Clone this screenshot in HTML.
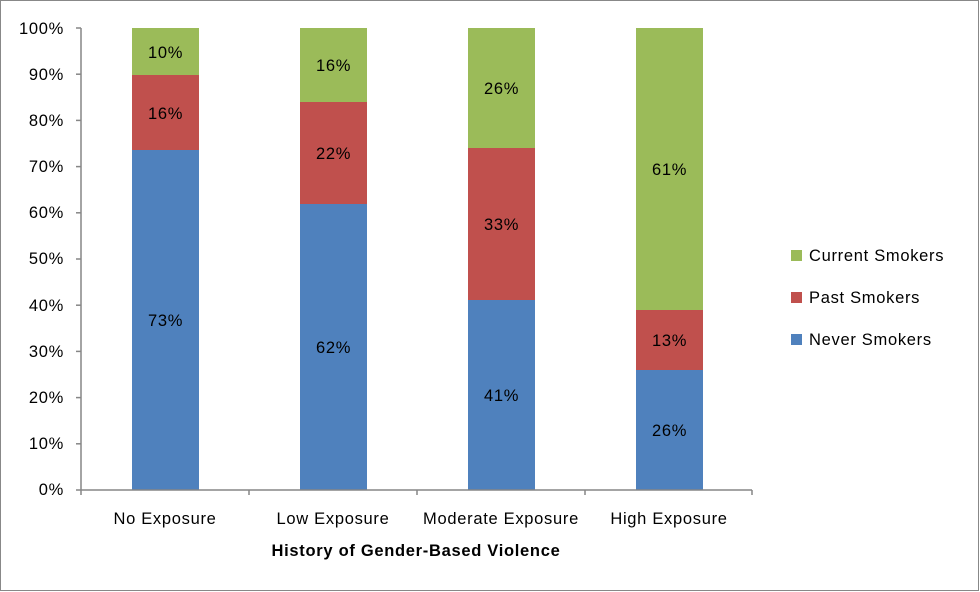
<!DOCTYPE html>
<html><head><style>
html,body{margin:0;padding:0;background:#fff;}
svg{display:block;font-family:"Liberation Sans",Calibri,sans-serif;}
</style></head><body>
<svg width="980" height="592" viewBox="0 0 980 592" xmlns="http://www.w3.org/2000/svg">
<rect x="0.5" y="0.5" width="978" height="590" fill="#fff" stroke="#888" stroke-width="1"/>
<g font-size="16.5" letter-spacing="0.7" fill="#000">
<!-- bars -->
<rect x="132" y="150" width="67" height="340" fill="#4F81BD"/>
<rect x="132" y="75" width="67" height="75" fill="#C0504D"/>
<rect x="132" y="28" width="67" height="47" fill="#9BBB59"/>
<rect x="300" y="204" width="67" height="286" fill="#4F81BD"/>
<rect x="300" y="102" width="67" height="102" fill="#C0504D"/>
<rect x="300" y="28" width="67" height="74" fill="#9BBB59"/>
<rect x="468" y="300" width="67" height="190" fill="#4F81BD"/>
<rect x="468" y="148" width="67" height="152" fill="#C0504D"/>
<rect x="468" y="28" width="67" height="120" fill="#9BBB59"/>
<rect x="636" y="370" width="67" height="120" fill="#4F81BD"/>
<rect x="636" y="310" width="67" height="60" fill="#C0504D"/>
<rect x="636" y="28" width="67" height="282" fill="#9BBB59"/>
<g text-anchor="middle">
<text x="165.5" y="58">10%</text><text x="165.5" y="119">16%</text><text x="165.5" y="326">73%</text>
<text x="333.5" y="71">16%</text><text x="333.5" y="159">22%</text><text x="333.5" y="353">62%</text>
<text x="501.5" y="94">26%</text><text x="501.5" y="230">33%</text><text x="501.5" y="401">41%</text>
<text x="669.5" y="175">61%</text><text x="669.5" y="346">13%</text><text x="669.5" y="436">26%</text>
</g>
<!-- axes -->
<g stroke="#868686" stroke-width="1.5" fill="none">
<line x1="81" y1="28" x2="81" y2="490"/>
<line x1="76" y1="490" x2="752" y2="490"/>
<line x1="76" y1="28" x2="81" y2="28"/><line x1="76" y1="74.2" x2="81" y2="74.2"/>
<line x1="76" y1="120.4" x2="81" y2="120.4"/><line x1="76" y1="166.6" x2="81" y2="166.6"/>
<line x1="76" y1="212.8" x2="81" y2="212.8"/><line x1="76" y1="259" x2="81" y2="259"/>
<line x1="76" y1="305.2" x2="81" y2="305.2"/><line x1="76" y1="351.4" x2="81" y2="351.4"/>
<line x1="76" y1="397.6" x2="81" y2="397.6"/><line x1="76" y1="443.8" x2="81" y2="443.8"/>
<line x1="81" y1="490" x2="81" y2="495"/><line x1="249" y1="490" x2="249" y2="495"/>
<line x1="417" y1="490" x2="417" y2="495"/><line x1="585" y1="490" x2="585" y2="495"/>
<line x1="752" y1="490" x2="752" y2="495"/>
</g>
<g text-anchor="end">
<text x="64" y="34">100%</text><text x="64" y="80">90%</text><text x="64" y="126">80%</text>
<text x="64" y="172">70%</text><text x="64" y="218">60%</text><text x="64" y="264">50%</text>
<text x="64" y="311">40%</text><text x="64" y="357">30%</text><text x="64" y="403">20%</text>
<text x="64" y="449">10%</text><text x="64" y="495">0%</text>
</g>
<g text-anchor="middle">
<text x="165" y="524">No Exposure</text><text x="333" y="524">Low Exposure</text>
<text x="501" y="524">Moderate Exposure</text><text x="669" y="524">High Exposure</text>
<text x="416" y="556" font-weight="bold">History of Gender-Based Violence</text>
</g>
<rect x="791" y="250" width="11" height="11" fill="#9BBB59"/>
<rect x="791" y="292" width="11" height="11" fill="#C0504D"/>
<rect x="791" y="334" width="11" height="11" fill="#4F81BD"/>
<text x="809" y="261">Current Smokers</text>
<text x="809" y="303">Past Smokers</text>
<text x="809" y="345">Never Smokers</text>
</g>
</svg>
</body></html>
